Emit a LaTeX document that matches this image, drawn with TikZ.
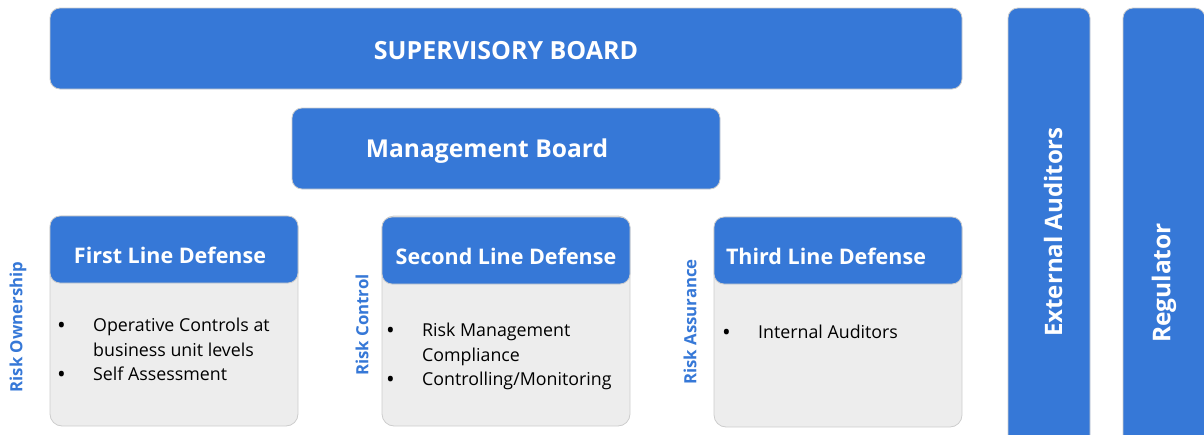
\documentclass[tikz,border=0pt]{standalone}
\usepackage{fontspec}
\setmainfont{Open Sans}
\newfontfamily\headfont{Open Sans}
\usepackage{tikz}
\usetikzlibrary{positioning}

\definecolor{boxblue}{RGB}{54,120,215}
\definecolor{bodygray}{RGB}{237,237,237}
\definecolor{edgegray}{RGB}{205,205,205}

\newcommand{\dropby}[2]{\raisebox{-#1}[\height][\depth]{#2}}
\newcommand{\dotitem}{\makebox[36pt][l]{\raisebox{-1.5pt}{\scalebox{1.3}{\textbullet}}}}

\begin{document}
\begin{tikzpicture}[x=1pt,y=-1pt]
  \tikzstyle{blue box}=[draw=edgegray,line width=0.8pt,fill=boxblue,rounded corners=10pt,text=white,font=\headfont\bfseries]
  \tikzstyle{body box}=[draw=edgegray,line width=0.8pt,fill=bodygray,rounded corners=12pt,minimum width=248pt,minimum height=210pt]
  \tikzstyle{line head}=[blue box,minimum width=248pt,minimum height=67pt,font=\headfont\bfseries\fontsize{21.5}{24}\selectfont]
  \tikzstyle{side label}=[rotate=90,text=boxblue,font=\headfont\bfseries\fontsize{16.8}{18}\selectfont]
  \tikzstyle{bullets}=[anchor=north west,inner sep=0pt,align=left,font=\fontsize{17.8}{24.5}\selectfont]
  \useasboundingbox (0,0) rectangle (1204,434);

  % boards
  \node[blue box,minimum width=912pt,minimum height=81pt,font=\headfont\bfseries\fontsize{25}{28}\selectfont] (super) at (506,48.5) {\dropby{2.5pt}{SUPERVISORY BOARD}};
  \node[blue box,minimum width=428pt,minimum height=81pt,font=\headfont\bfseries\fontsize{24.6}{28}\selectfont] (mgmt) at (506,148.5) {\dropby{3pt}{\hspace*{-38pt}Management Board}};

  % outside bodies
  \node[blue box,rotate=90,minimum width=448pt,minimum height=82pt,font=\headfont\bfseries\fontsize{24}{26}\selectfont] (extaud) at (1049,232) {\dropby{4pt}{External Auditors}};
  \node[blue box,rotate=90,minimum width=550pt,minimum height=82pt,font=\headfont\bfseries\fontsize{24.5}{26}\selectfont] (reg) at (1164,283) {Regulator};

  % three lines of defense
  \node[body box] (body1) at (174,321) {};
  \node[body box] (body2) at (506,321) {};
  \node[body box] (body3) at (838,322) {};
  \node[line head] (head1) at (174,249.5) {\dropby{6pt}{\hspace*{-8pt}First Line Defense}};
  \node[line head] (head2) at (506,250.5) {\dropby{6pt}{Second Line Defense}};
  \node[line head] (head3) at (838,250.5) {\dropby{6pt}{\hspace*{-24pt}Third Line Defense}};

  \node[bullets] (list1) at (57,318)
    {\dotitem Operative Controls at\\
     \hspace*{36pt}business unit levels\\
     \dotitem Self Assessment};
  \node[bullets] (list2) at (386,323)
    {\dotitem Risk Management\\
     \hspace*{36pt}Compliance\\
     \dotitem Controlling/Monitoring};
  \node[bullets] (list3) at (722,325)
    {\dotitem Internal Auditors};

  % roles
  \node[side label] (own) at (18,327) {Risk Ownership};
  \node[side label] (ctrl) at (362,325) {Risk Control};
  \node[side label] (assur) at (690,322) {Risk Assurance};
\end{tikzpicture}
\end{document}
